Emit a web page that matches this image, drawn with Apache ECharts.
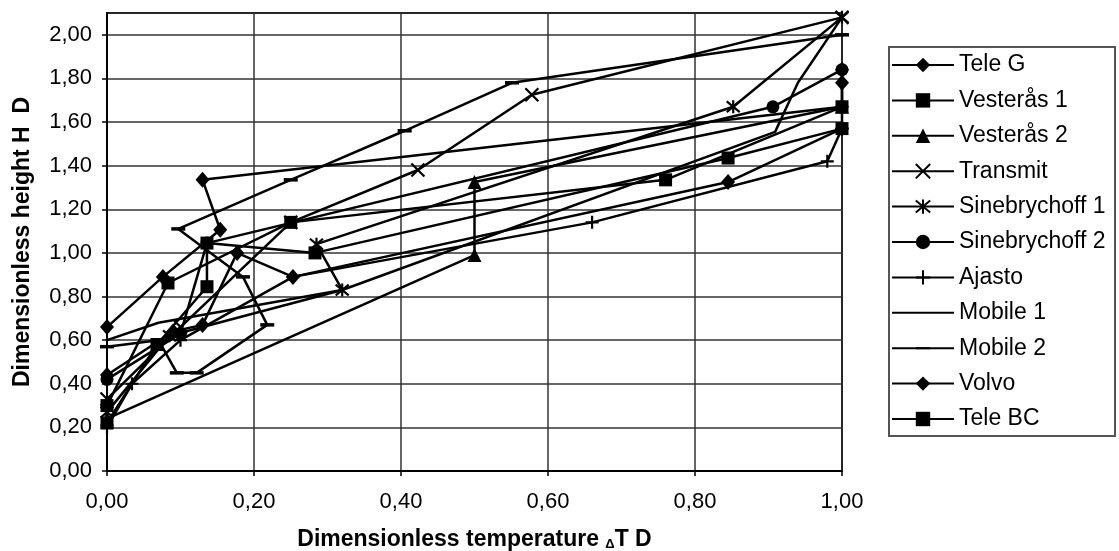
<!DOCTYPE html>
<html>
<head>
    <meta charset="UTF-8">
    <title></title>
    <script src="https://cdn.jsdelivr.net/npm/echarts@6/dist/echarts.min.js"></script>
    <style>
        * { padding: 0; margin: 0; }
        body { background: #fff; }
        #main { width: 1119px; height: 551px; }
    </style>
</head>
<body>
    <div id="main"></div>
<script>
    // [dimensionless temperature, dimensionless height] per hall
    var teleG = [[0, 0.66], [0.076, 0.89], [0.154, 1.106], [0.13, 1.335], [1.0, 1.67], [1.0, 1.84]];
    var vesteras1 = [[0, 0.30], [0.083, 0.862], [0.25, 1.14], [0.76, 1.335], [1.0, 1.67]];
    var vesteras2 = [[0, 0.24], [0.5, 0.99], [0.5, 1.325], [1.0, 1.67]];
    var transmit = [[0, 0.33], [0.1, 0.66], [0.25, 1.14], [0.423, 1.38], [0.578, 1.725], [1.0, 2.08]];
    var sinebrychoff1 = [[0, 0.27], [0.085, 0.62], [0.32, 0.83], [0.285, 1.04], [0.852, 1.67], [1.0, 2.08]];
    var sinebrychoff2 = [[0, 0.42], [0.1, 0.63], [0.136, 1.045], [0.906, 1.67], [1.0, 1.84]];
    var ajasto = [[0, 0.20], [0.034, 0.40], [0.1, 0.6], [0.253, 0.89], [0.66, 1.14], [0.98, 1.42], [1.0, 1.57]];
    var mobile1 = [[0, 0.60], [0.07, 0.68], [0.32, 0.83], [0.909, 1.555], [0.94, 1.78], [1.0, 2.08]];
    var mobile2 = [[0, 0.57], [0.07, 0.6], [0.095, 0.45], [0.122, 0.45], [0.218, 0.67], [0.185, 0.89], [0.097, 1.11], [0.25, 1.335], [0.405, 1.56], [0.551, 1.78], [1.0, 2.0]];
    var volvo = [[0, 0.44], [0.09, 0.64], [0.13, 0.67], [0.177, 1.0], [0.253, 0.89], [0.845, 1.325], [1.0, 1.57], [1.0, 1.78]];
    var teleBC = [[0, 0.22], [0.068, 0.58], [0.136, 0.845], [0.136, 1.045], [0.283, 1.0], [0.845, 1.435], [1.0, 1.57]];

    var seriesNames = ['Tele G', 'Vesterås 1', 'Vesterås 2', 'Transmit', 'Sinebrychoff 1', 'Sinebrychoff 2', 'Ajasto', 'Mobile 1', 'Mobile 2', 'Volvo', 'Tele BC'];
    var seriesData = [teleG, vesteras1, vesteras2, transmit, sinebrychoff1, sinebrychoff2, ajasto, mobile1, mobile2, volvo, teleBC];

    // marker per series: [symbol, size, stroke width]
    var markers = [
        ['diamond', [14, 16], 0],
        ['rect', 13, 0],
        ['triangle', 14, 0],
        ['path://M0,0L10,10M10,0L0,10', 13, 2.2],
        ['path://M0,0L10,10M10,0L0,10M5,-1L5,11', 13, 2.2],
        ['circle', 13, 0],
        ['path://M5,0L5,10M0,5L10,5', 13, 2.2],
        ['path://M0,0M10,10', 4, 0],
        ['path://M0,0M10,10M0,5L10,5', 14, 3.5],
        ['diamond', [14, 16], 0],
        ['rect', 13, 0]
    ];

    function comma(v) {
        return v.toFixed(2).replace('.', ',');
    }

    var myChart = echarts.init(document.getElementById('main'));

    var series = [];
    for (var i = 0; i < seriesNames.length; i++) {
        series.push({
            name: seriesNames[i],
            type: 'line',
            data: seriesData[i],
            symbol: markers[i][0],
            symbolSize: markers[i][1],
            showAllSymbol: true,
            lineStyle: { color: '#000', width: 2.5 },
            itemStyle: { color: '#000', borderColor: '#000', borderWidth: markers[i][2] }
        });
    }

    var font = 'Liberation Sans, Arial, sans-serif';

    var option = {
        backgroundColor: '#fff',
        animation: false,
        textStyle: { fontFamily: font, color: '#000' },
        grid: {
            left: 107, right: 277, top: 13, bottom: 80,
            outerBoundsMode: 'none',
            show: true, borderColor: '#000', borderWidth: 2
        },
        legend: {
            orient: 'vertical',
            left: 891,
            top: 53,
            padding: 0,
            itemWidth: 62,
            itemHeight: 18,
            itemGap: 11.4,
            selectedMode: false,
            data: seriesNames,
            textStyle: { fontSize: 23, color: '#000', lineHeight: 24, fontFamily: font }
        },
        graphic: [{
            type: 'rect',
            shape: { x: 889, y: 47, width: 226, height: 389 },
            style: { fill: 'none', stroke: '#555', lineWidth: 2 },
            z: -1
        }],
        xAxis: {
            type: 'value',
            min: 0, max: 1, interval: 0.2,
            name: '{a|Dimensionless temperature }{s|Δ}{a|T D}',
            nameLocation: 'middle',
            nameGap: 57,
            nameTextStyle: {
                rich: {
                    a: { fontSize: 23, fontWeight: 'bold', color: '#000', fontFamily: font },
                    s: { fontSize: 13, fontWeight: 'bold', color: '#000', verticalAlign: 'bottom', lineHeight: 10, fontFamily: font }
                }
            },
            axisLine: { lineStyle: { color: '#000', width: 2 } },
            axisTick: { show: true, length: 5, lineStyle: { color: '#000', width: 1.5 } },
            axisLabel: { fontSize: 22, color: '#000', margin: 20, formatter: comma },
            splitLine: { show: true, lineStyle: { color: '#333', width: 1.5 } }
        },
        yAxis: {
            type: 'value',
            min: 0, max: 2.1, interval: 0.2,
            name: 'Dimensionless height H  D',
            nameLocation: 'middle',
            nameGap: 73,
            nameTextStyle: { fontSize: 23, fontWeight: 'bold', color: '#000' },
            axisLine: { show: true, lineStyle: { color: '#000', width: 2 } },
            axisTick: { show: true, length: 5, lineStyle: { color: '#000', width: 1.5 } },
            axisLabel: { fontSize: 22, color: '#000', margin: 15, showMaxLabel: false, formatter: comma },
            splitLine: { show: true, lineStyle: { color: '#333', width: 1.5 } }
        },
        series: series
    };

    myChart.setOption(option);
</script>
</body>
</html>
